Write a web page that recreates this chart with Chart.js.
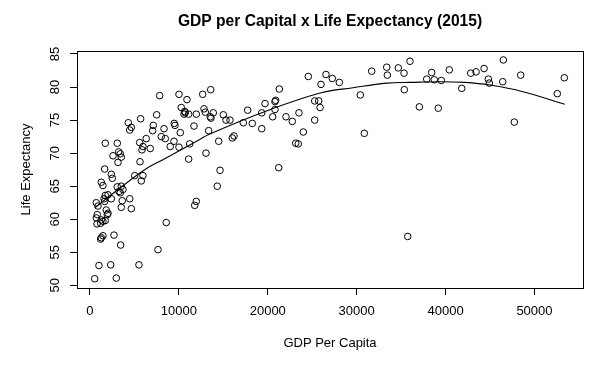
<!DOCTYPE html>
<html><head><meta charset="utf-8">
<script src="https://cdn.jsdelivr.net/npm/chart.js@4.4.0/dist/chart.umd.min.js"></script>
<style>html,body{margin:0;padding:0;background:#fff}canvas{display:block}</style>
</head><body>
<canvas id="c" width="616" height="372"></canvas>
<script>
// GDP per capita (x) and life expectancy (y) of each country
const gdp = [26550,27260,28050,25990,31690,33380,33450,34680,35330,36000,38440,37880,38730,39520,40420,30410,35360,37050,39180,30860,
41820,42830,43430,44330,46500,44810,44920,46430,48450,53360,52570,47730,35740,
13580,12680,12830,12970,13870,13530,13610,15000,15300,15750,13350,14480,16010,16200,13050,14630,17250,17740,18260,19320,19320,19690,
20550,20810,20890,20810,21300,22050,22760,23510,24000,23140,23430,24560,25280,25730,25880,25280,21230,14320,
7840,10010,10910,10270,10650,10720,10580,11100,11960,7500,4310,5700,4650,4470,7120,8330,9480,9560,7050,8020,8470,10160,11700,
6330,5590,5960,5850,6780,9450,9030,10010,11220,11100,1720,3070,3230,3410,2590,3520,3150,5630,1650,2400,2510,1270,1460,5030,5960,5770,
3070,3520,3260,3410,3710,1720,2030,2400,1580,3630,4470,710,900,1650,3520,4650,1830,2030,1950,820,710,1270,1460,1720,1200,790,
8580,11960,11780,1460,1270,1200,2700,3450,7650,1010,2330,5510,530,2960];
const lifeExp = [81.9,81.3,80.7,80.4,82.4,83.0,81.8,82.9,82.1,83.9,82.2,81.2,81.1,81.0,82.6,78.8,79.6,77.0,76.8,73.0,
79.8,82.1,82.3,82.8,84.1,81.2,80.6,80.8,81.8,81.4,79.0,74.7,57.4,
79.6,78.9,76.7,76.2,76.1,75.5,75.3,75.8,75.0,75.0,73.4,71.8,72.3,72.6,70.0,67.4,74.6,76.5,74.5,76.1,73.7,77.5,
75.5,77.8,78.0,76.6,79.7,75.5,74.8,76.1,73.2,71.5,71.4,81.6,77.9,77.9,76.9,75.0,67.8,65.0,
78.7,78.9,78.1,76.9,76.3,76.1,75.9,75.9,75.9,75.8,74.6,75.2,73.9,73.5,74.2,73.7,74.5,74.2,73.4,72.5,72.2,73.1,74.1,
72.2,71.6,71.0,70.5,70.7,71.8,71.0,70.9,71.4,69.1,71.5,71.5,70.2,69.9,69.6,69.4,68.6,68.7,67.6,66.8,66.2,65.6,65.1,66.6,66.6,65.8,
64.9,65.0,64.2,64.0,64.5,63.6,63.7,63.1,63.1,62.8,63.1,62.5,62.0,62.7,61.8,61.6,61.4,60.9,60.7,60.7,60.2,59.9,59.7,59.8,59.4,59.3,
59.5,62.7,62.1,57.5,57.2,57.0,57.6,56.1,55.4,53.0,53.1,53.1,51.0,51.1];
// fitted trend line
const curveX = [530,2400,6150,8200,12400,13300,19700,25900,29600,33400,36000,39400,42200,45000,48700,53400];
const curveY = [61.7,63.7,67.5,69.0,72.1,72.8,76.3,79.1,79.9,80.6,80.7,80.8,80.7,80.3,79.3,77.4];
const xTicks = [0,10000,20000,30000,40000,50000];
const yTicks = [50,55,60,65,70,75,80,85];
const titleText = 'GDP per Capital x Life Expectancy (2015)';
const xTitle = 'GDP Per Capita';
const yTitle = 'Life Expectancy';

const FONT = "'Liberation Sans', Arial, sans-serif";

const boxPlugin = {
  id: 'box',
  afterDraw(chart) {
    const {ctx, chartArea: a, scales: {y}} = chart;
    ctx.save();
    ctx.strokeStyle = '#000';
    ctx.lineWidth = 1;
    ctx.strokeRect(Math.round(a.left) + 0.5, Math.round(a.top) + 0.5,
                   Math.round(a.right - a.left), Math.round(a.bottom - a.top));
    ctx.fillStyle = '#000';
    ctx.font = '13px ' + FONT;
    ctx.textAlign = 'center';
    ctx.textBaseline = 'middle';
    yTicks.forEach(v => {
      const py = y.getPixelForValue(v);
      ctx.save();
      ctx.translate(55, py);
      ctx.rotate(-Math.PI / 2);
      ctx.fillText(String(v), 0, 0);
      ctx.restore();
    });
    ctx.restore();
  }
};

const pts = gdp.map((x, i) => ({x, y: lifeExp[i]}));
const curve = curveX.map((x, i) => ({x, y: curveY[i]}));

new Chart(document.getElementById('c'), {
  type: 'scatter',
  data: {
    datasets: [
      {type: 'scatter', data: pts, pointStyle: 'circle', pointRadius: 3.3, pointBorderWidth: 1,
       borderColor: '#000', backgroundColor: 'rgba(0,0,0,0)', pointHoverRadius: 3.3},
      {type: 'line', data: curve, borderColor: '#000', borderWidth: 1.1, pointRadius: 0,
       tension: 0.4, fill: false}
    ]
  },
  options: {
    responsive: false,
    animation: false,
    devicePixelRatio: 1,
    layout: {padding: {left: 0, right: 33, top: 0, bottom: 0}},
    plugins: {
      legend: {display: false},
      tooltip: {enabled: false},
      title: {display: true, text: titleText, fullSize: false, color: '#000',
              font: {family: FONT, size: 15.6, weight: 'bold', lineHeight: 1.2},
              padding: {top: 12, bottom: 20.3}}
    },
    scales: {
      x: {
        type: 'linear', min: -1460, max: 55460,
        afterBuildTicks: s => { s.ticks = xTicks.map(v => ({value: v})); },
        afterFit: s => { s.height = 84; },
        ticks: {color: '#000', font: {family: FONT, size: 13}, padding: 9, maxRotation: 0,
                autoSkip: false, callback: v => String(v)},
        grid: {display: true, drawOnChartArea: false, drawTicks: true, tickLength: 7,
               color: '#000', tickColor: '#000', tickWidth: 1},
        border: {display: false},
        title: {display: true, text: xTitle, color: '#000', font: {family: FONT, size: 13},
                padding: {top: 0, bottom: 21}}
      },
      y: {
        type: 'linear', min: 49.6, max: 85.45,
        afterBuildTicks: s => { s.ticks = yTicks.map(v => ({value: v})); },
        afterFit: s => { s.width = 77; },
        ticks: {display: false},
        grid: {display: true, drawOnChartArea: false, drawTicks: true, tickLength: 7,
               color: '#000', tickColor: '#000', tickWidth: 1},
        border: {display: false},
        title: {display: true, text: yTitle, color: '#000', font: {family: FONT, size: 13},
                padding: {top: 19, bottom: 0}}
      }
    }
  },
  plugins: [boxPlugin]
});
</script>
</body></html>
